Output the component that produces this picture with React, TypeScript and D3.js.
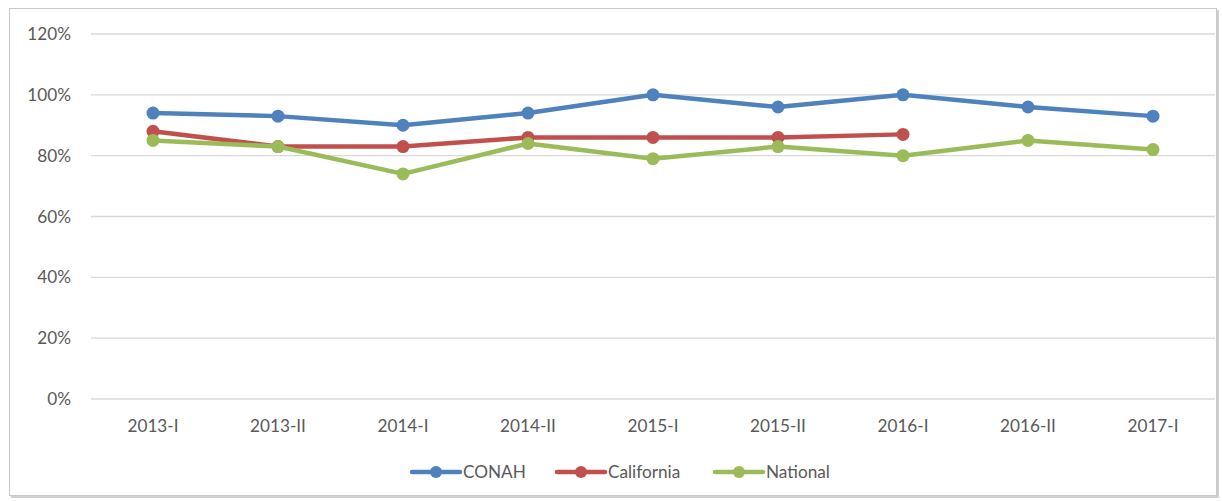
import * as d3 from "d3";
import { useEffect, useRef } from "react";

const categories = ["2013-I", "2013-II", "2014-I", "2014-II", "2015-I", "2015-II", "2016-I", "2016-II", "2017-I"];
const conah = [94, 93, 90, 94, 100, 96, 100, 96, 93];
const california = [88, 83, 83, 86, 86, 86, 87];
const national = [85, 83, 74, 84, 79, 83, 80, 85, 82];
const yTicks = [0, 20, 40, 60, 80, 100, 120];

const seriesList = [
  { name: "CONAH", values: conah, color: "#4F81BD" },
  { name: "California", values: california, color: "#C0504D" },
  { name: "National", values: national, color: "#9BBB59" },
];

const App = () => {
  const ref = useRef<SVGSVGElement>(null);

  useEffect(() => {
    const svg = d3.select(ref.current);
    svg.selectAll("*").remove();

    const font = "Lato, 'Open Sans', sans-serif";
    const fontSize = 17.2;

    // chart frame with a soft shadow
    svg.append("rect")
      .attr("x", 11).attr("y", 10).attr("width", 1208).attr("height", 488)
      .attr("fill", "#d0d0d0");
    svg.append("rect")
      .attr("x", 9.5).attr("y", 8.5).attr("width", 1207).attr("height", 487)
      .attr("fill", "#fff").attr("stroke", "#c8c8c8");

    const x = d3.scaleBand().domain(categories).range([90.5, 1215.5]);
    const y = d3.scaleLinear().domain([0, 120]).range([399, 34]);
    const cx = (i: number) => x(categories[i])! + x.bandwidth() / 2;

    // grid lines
    svg.append("g").selectAll("line")
      .data(yTicks)
      .enter()
      .append("line")
      .attr("x1", 91).attr("x2", 1215)
      .attr("y1", (d) => y(d)).attr("y2", (d) => y(d))
      .attr("stroke", "#d9d9d9").attr("stroke-width", 1.3);

    // y labels
    svg.append("g").selectAll("text")
      .data(yTicks)
      .enter()
      .append("text")
      .attr("x", 71).attr("y", (d) => y(d) + 6)
      .attr("text-anchor", "end")
      .attr("font-family", font).attr("font-size", fontSize).attr("fill", "#595959")
      .text((d) => d + "%");

    // x labels
    svg.append("g").selectAll("text")
      .data(categories)
      .enter()
      .append("text")
      .attr("x", (d, i) => cx(i)).attr("y", 432)
      .attr("text-anchor", "middle")
      .attr("font-family", font).attr("font-size", fontSize).attr("fill", "#595959")
      .text((d) => d);

    const line = d3.line<number>()
      .x((d, i) => cx(i))
      .y((d) => y(d));

    seriesList.forEach((s) => {
      const g = svg.append("g");
      g.append("path")
        .attr("d", line(s.values))
        .attr("fill", "none")
        .attr("stroke", s.color)
        .attr("stroke-width", 4.5)
        .attr("stroke-linejoin", "round");
      g.selectAll("circle")
        .data(s.values)
        .enter()
        .append("circle")
        .attr("cx", (d, i) => cx(i))
        .attr("cy", (d) => y(d))
        .attr("r", 6.5)
        .attr("fill", s.color);
    });

    // legend
    const legendX = [412, 557, 715];
    const legendY = 472;
    seriesList.forEach((s, i) => {
      const g = svg.append("g").attr("transform", `translate(${legendX[i]},${legendY})`);
      g.append("line")
        .attr("x1", 0).attr("x2", 48)
        .attr("stroke", s.color).attr("stroke-width", 4.5).attr("stroke-linecap", "round");
      g.append("circle").attr("cx", 24).attr("r", 6).attr("fill", s.color);
      g.append("text")
        .attr("x", 51).attr("y", 6)
        .attr("font-family", font).attr("font-size", fontSize).attr("fill", "#595959")
        .text(s.name);
    });
  }, []);

  return (
    <svg
      ref={ref}
      width={1222}
      height={501}
      style={{ position: "absolute", left: 0, top: 0, background: "#fff" }}
    />
  );
};

export default App;
